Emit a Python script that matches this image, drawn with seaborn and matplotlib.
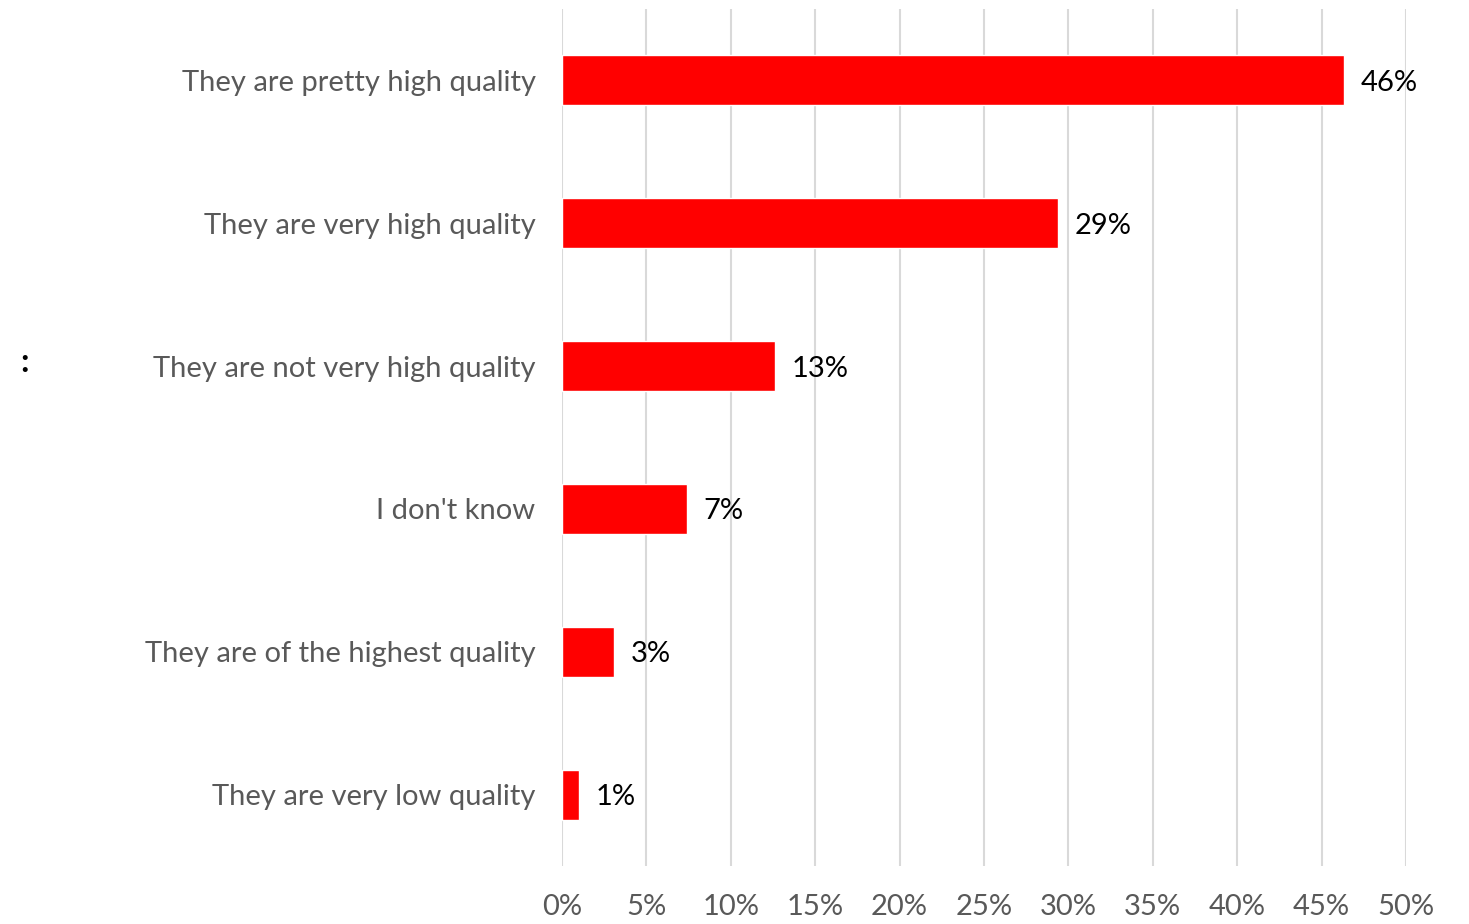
import matplotlib
matplotlib.use("Agg")
import matplotlib.pyplot as plt
import seaborn as sns
import pandas as pd

categories = [
    "They are pretty high quality",
    "They are very high quality",
    "They are not very high quality",
    "I don't know",
    "They are of the highest quality",
    "They are very low quality",
]
values = [46.3, 29.4, 12.6, 7.4, 3.1, 1.0]
labels = ["46%", "29%", "13%", "7%", "3%", "1%"]
xticks = [0, 5, 10, 15, 20, 25, 30, 35, 40, 45, 50]
xticklabels = ["0%", "5%", "10%", "15%", "20%", "25%", "30%", "35%", "40%", "45%", "50%"]

sns.set_theme(style="white")
plt.rcParams['font.family'] = ['Lato', 'DejaVu Sans']

df = pd.DataFrame({"cat": categories, "val": values})

fig = plt.figure(figsize=(14.69, 9.24), dpi=100)
ax = fig.add_axes([562/1469, 1 - 866/924, (1406 - 562)/1469, (866 - 9)/924])

sns.barplot(data=df, x="val", y="cat", orient="h", color="#FF0000",
            width=0.35, ax=ax, saturation=1, zorder=3)

ax.set_xlim(0, 50)
ax.set_ylim(5.5, -0.5)
ax.set_xticks(xticks)
ax.set_xticklabels(xticklabels, fontsize=21, color="#595959")
ax.tick_params(axis="x", length=0, pad=20)
ax.tick_params(axis="y", length=0, pad=19, labelsize=21, labelcolor="#595959")
ax.set_xlabel("")
ax.set_ylabel("")
for s in ax.spines.values():
    s.set_visible(False)
ax.grid(axis="x", color="#D9D9D9", linewidth=1.5, zorder=0)
ax.set_axisbelow(True)

for i, (v, lab) in enumerate(zip(values, labels)):
    ax.annotate(lab, xy=(v, i), xytext=(12, 0), textcoords="offset points",
                va="center_baseline", ha="left", fontsize=21, color="black")

fig.text(25/1469, 1 - 362/924, ":", fontsize=24, fontweight="bold", color="black",
         ha="center", va="center")

fig.savefig("out.png", dpi=100)
